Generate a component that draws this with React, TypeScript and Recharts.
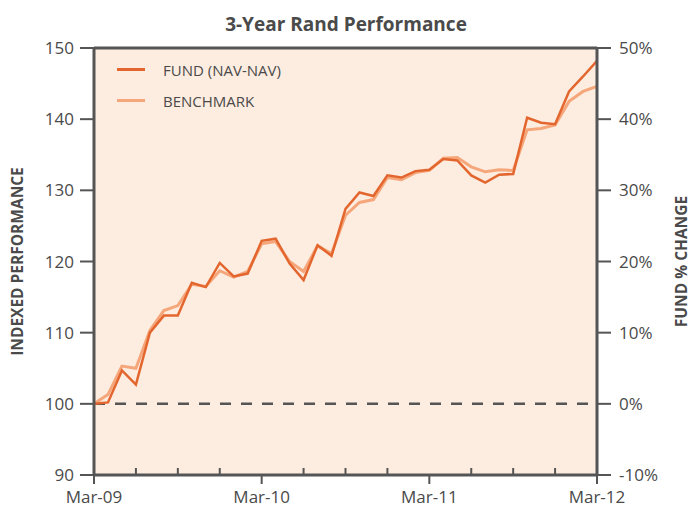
import React from 'react';
import {
  LineChart, Line, XAxis, YAxis, CartesianGrid, ReferenceLine,
} from 'recharts';

// monthly index values, Mar-09 = 100
const months = [
  'Mar-09', 'Apr-09', 'May-09', 'Jun-09', 'Jul-09', 'Aug-09', 'Sep-09', 'Oct-09', 'Nov-09', 'Dec-09', 'Jan-10', 'Feb-10',
  'Mar-10', 'Apr-10', 'May-10', 'Jun-10', 'Jul-10', 'Aug-10', 'Sep-10', 'Oct-10', 'Nov-10', 'Dec-10', 'Jan-11', 'Feb-11',
  'Mar-11', 'Apr-11', 'May-11', 'Jun-11', 'Jul-11', 'Aug-11', 'Sep-11', 'Oct-11', 'Nov-11', 'Dec-11', 'Jan-12', 'Feb-12',
  'Mar-12',
];

const fund = [
  100.0, 100.2, 104.7, 102.7, 110.0, 112.4, 112.4, 117.0, 116.4, 119.8, 117.9, 118.3,
  122.9, 123.2, 119.7, 117.4, 122.3, 120.8, 127.4, 129.7, 129.2, 132.1, 131.8, 132.7,
  132.9, 134.4, 134.2, 132.1, 131.1, 132.2, 132.3, 140.2, 139.5, 139.3, 143.9, 146.0,
  148.2,
];

const benchmark = [
  100.0, 101.3, 105.3, 105.0, 110.3, 113.1, 113.8, 116.8, 116.5, 118.7, 117.8, 118.6,
  122.5, 122.8, 120.0, 118.6, 122.2, 121.1, 126.5, 128.3, 128.7, 131.8, 131.5, 132.5,
  132.8, 134.5, 134.6, 133.3, 132.6, 132.9, 132.8, 138.5, 138.7, 139.2, 142.5, 143.9,
  144.6,
];

const yTicks = [90, 100, 110, 120, 130, 140, 150];

const FONT = '"Open Sans", sans-serif';
const GREY = '#4a4a4a';
const AXIS = '#555555';
const FUND_COLOR = '#E4662F';
const BENCH_COLOR = '#F5A77B';

const legendItems = [
  { name: 'FUND (NAV-NAV)', color: FUND_COLOR },
  { name: 'BENCHMARK', color: BENCH_COLOR },
];

const data = months.map((m, i) => ({
  idx: i,
  month: m,
  fund: fund[i],
  benchmark: benchmark[i],
}));

const quarterTicks = months.map((_, i) => i).filter(i => i % 3 === 0);

const XTick = (props: any) => {
  const { x, y, payload } = props;
  const label = months[payload.value];
  const major = label.startsWith('Mar');
  if (!major) {
    return <line x1={x} y1={y} x2={x} y2={y - 7} stroke={AXIS} strokeWidth={2} />;
  }
  return (
    <g>
      <line x1={x} y1={y} x2={x} y2={y + 9} stroke={AXIS} strokeWidth={2} />
      <text x={x} y={y + 28} textAnchor="middle" fill={GREY} fontSize={17} fontFamily={FONT}>
        {label}
      </text>
    </g>
  );
};

export default function App() {
  return (
    <div style={{ position: 'absolute', left: 0, top: 0, width: 692, height: 512, background: '#fff' }}>
      <LineChart width={692} height={512} data={data} margin={{ top: 48, right: 0, bottom: 0, left: 0 }}>
        <CartesianGrid horizontal={false} vertical={false} fill="#FDEDE0" />
        <XAxis
          dataKey="idx"
          type="number"
          domain={[0, 36]}
          ticks={quarterTicks}
          interval={0}
          height={37}
          tickSize={0}
          tickMargin={0}
          tickLine={false}
          tick={<XTick />}
          axisLine={{ stroke: AXIS, strokeWidth: 3 }}
        />
        <YAxis
          yAxisId="left"
          width={94}
          domain={[90, 150]}
          ticks={yTicks}
          interval={0}
          tickSize={14}
          tickMargin={6}
          tickLine={{ stroke: AXIS, strokeWidth: 2 }}
          axisLine={{ stroke: AXIS, strokeWidth: 3 }}
          tick={{ fill: GREY, fontSize: 17, fontFamily: FONT }}
          label={{
            value: 'INDEXED PERFORMANCE', angle: -90, position: 'insideLeft', offset: 17,
            style: { textAnchor: 'middle', fill: GREY, fontSize: 15.5, fontWeight: 700, fontFamily: FONT },
          }}
        />
        <YAxis
          yAxisId="right"
          orientation="right"
          width={95}
          domain={[90, 150]}
          ticks={yTicks}
          interval={0}
          tickSize={14}
          tickMargin={8}
          tickFormatter={(v: number) => `${v - 100}%`}
          tickLine={{ stroke: AXIS, strokeWidth: 2 }}
          axisLine={{ stroke: AXIS, strokeWidth: 3 }}
          tick={{ fill: GREY, fontSize: 17, fontFamily: FONT }}
          label={{
            value: 'FUND % CHANGE', angle: -90, position: 'insideRight', offset: 11,
            style: { textAnchor: 'middle', fill: GREY, fontSize: 15.5, fontWeight: 700, fontFamily: FONT },
          }}
        />
        <ReferenceLine yAxisId="left" y={150} stroke={AXIS} strokeWidth={3} />
        <ReferenceLine yAxisId="left" y={100} stroke={AXIS} strokeWidth={2.5} strokeDasharray="11 10" />
        <Line
          yAxisId="right"
          dataKey="benchmark"
          name="BENCHMARK"
          stroke={BENCH_COLOR}
          strokeWidth={3}
          dot={false}
          isAnimationActive={false}
        />
        <Line
          yAxisId="left"
          dataKey="fund"
          name="FUND (NAV-NAV)"
          stroke={FUND_COLOR}
          strokeWidth={2.5}
          dot={false}
          isAnimationActive={false}
        />
      </LineChart>
      <div
        style={{
          position: 'absolute', left: 0, top: 11, width: 692, textAlign: 'center',
          fontFamily: FONT, fontWeight: 700, fontSize: 19, color: GREY,
        }}
      >
        3-Year Rand Performance
      </div>
      <div style={{ position: 'absolute', left: 117, top: 54, fontFamily: FONT, fontSize: 15, color: GREY }}>
        {legendItems.map(it => (
          <div key={it.name} style={{ display: 'flex', alignItems: 'center', height: 31 }}>
            <span style={{ display: 'inline-block', width: 28, height: 3, background: it.color, marginRight: 18 }} />
            <span>{it.name}</span>
          </div>
        ))}
      </div>
    </div>
  );
}
